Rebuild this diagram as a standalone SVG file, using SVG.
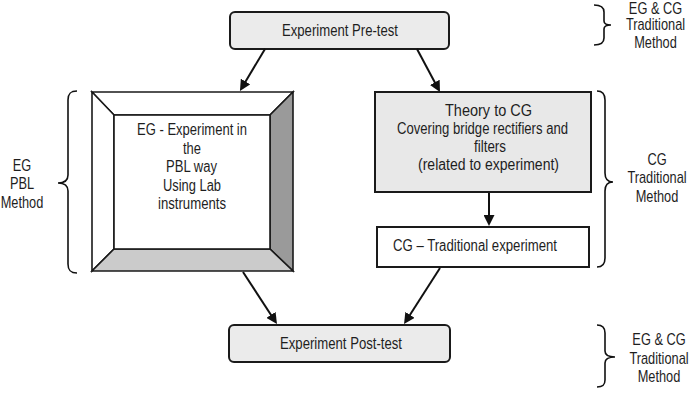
<svg xmlns="http://www.w3.org/2000/svg" width="694" height="402" viewBox="0 0 694 402">
<defs>
<style>
.t{font-family:"Liberation Sans",Arial,sans-serif;font-size:16px;fill:#1e1e1e}
.m{text-anchor:middle}
.box{stroke:#1a1a1a;stroke-width:2}
.gray{fill:#ebebeb}
.bev{stroke:#1a1a1a;stroke-width:1.6;stroke-linejoin:miter}
.brace{fill:none;stroke:#111;stroke-width:1.6}
.con{stroke:#111;stroke-width:2;fill:none}
</style>
<marker id="ah" viewBox="0 0 11 11" refX="7" refY="5.5" markerWidth="11" markerHeight="11" markerUnits="userSpaceOnUse" orient="auto">
<path d="M0,0 L11,5.5 L0,11 z" fill="#111"/>
</marker>
</defs>
<rect width="694" height="402" fill="#fff"/>

<g id="pretest">
<rect class="box gray" x="230" y="12" width="219" height="37" rx="5"/>
<text class="t" x="282" y="36" textLength="116" lengthAdjust="spacingAndGlyphs">Experiment Pre-test</text>
</g>

<g id="label-top">
<path class="brace" d="M594,5 C601,5 604,7 604,12 L604,21 C604,24 607,25 611,25 C607,25 604,26 604,29 L604,38 C604,43 601,45 594,45"/>
<g transform="translate(655.5 0) scale(0.8 1)">
<text class="t m" x="0" y="13.5">EG &amp; CG</text>
<text class="t m" x="0" y="30.5">Traditional</text>
<text class="t m" x="0" y="48.5">Method</text>
</g>
</g>

<g id="label-left">
<path class="brace" d="M77,91 C70,91 68,94 68,100 L68,175 C68,181 64,183 58,183 C64,183 68,185 68,191 L68,264 C68,270 70,273 77,273"/>
<g transform="translate(22 0) scale(0.8 1)">
<text class="t m" x="0" y="171">EG</text>
<text class="t m" x="0" y="189.5">PBL</text>
<text class="t m" x="0" y="208">Method</text>
</g>
</g>

<g id="eg-pbl">
<polygon class="bev" points="92,92 293,92 270,115 114,115" fill="#fff"/>
<polygon class="bev" points="92,92 114,115 114,249 92,271" fill="#fff"/>
<polygon class="bev" points="293,92 293,271 270,249 270,115" fill="#9a9a9a"/>
<polygon class="bev" points="92,271 293,271 270,249 114,249" fill="#cbcbcb"/>
<rect class="bev" x="114" y="115" width="156" height="134" fill="#fff"/>
<text class="t" x="137" y="135" textLength="110" lengthAdjust="spacingAndGlyphs">EG - Experiment in</text>
<text class="t" x="183" y="153.5" textLength="18" lengthAdjust="spacingAndGlyphs">the</text>
<text class="t" x="166" y="172" textLength="51" lengthAdjust="spacingAndGlyphs">PBL way</text>
<text class="t" x="163" y="190.5" textLength="58" lengthAdjust="spacingAndGlyphs">Using Lab</text>
<text class="t" x="158" y="209" textLength="68" lengthAdjust="spacingAndGlyphs">instruments</text>
</g>

<g id="theory">
<rect class="box" x="375" y="92" width="216" height="100" fill="#e8e8e8"/>
<text class="t" x="445" y="115.5" textLength="87" lengthAdjust="spacingAndGlyphs">Theory to CG</text>
<text class="t" x="397" y="133.8" textLength="171" lengthAdjust="spacingAndGlyphs">Covering bridge rectifiers and</text>
<text class="t" x="474" y="152" textLength="32" lengthAdjust="spacingAndGlyphs">filters</text>
<text class="t" x="418" y="169.5" textLength="141" lengthAdjust="spacingAndGlyphs">(related to experiment)</text>
</g>

<g id="cg-exp">
<rect class="box" x="377" y="227" width="212" height="40" fill="#fff"/>
<text class="t" x="393" y="251" textLength="164" lengthAdjust="spacingAndGlyphs">CG – Traditional experiment</text>
</g>

<g id="label-cg">
<path class="brace" d="M597,91 C603,91 605,94 605,100 L605,173 C605,179 608,182 613,182 C608,182 605,185 605,191 L605,258 C605,264 603,267 597,267"/>
<g transform="translate(657 0) scale(0.8 1)">
<text class="t m" x="0" y="165">CG</text>
<text class="t m" x="0" y="183.3">Traditional</text>
<text class="t m" x="0" y="201.7">Method</text>
</g>
</g>

<g id="posttest">
<rect class="box gray" x="229" y="325" width="221" height="37" rx="5"/>
<text class="t" x="280" y="348.5" textLength="122" lengthAdjust="spacingAndGlyphs">Experiment Post-test</text>
</g>

<g id="label-bottom">
<path class="brace" d="M597,325 C603,325 605,328 605,333 L605,351 C605,355 609,357 615,357 C609,357 605,359 605,363 L605,380 C605,385 603,387 597,387"/>
<g transform="translate(659 0) scale(0.8 1)">
<text class="t m" x="0" y="345">EG &amp; CG</text>
<text class="t m" x="0" y="364">Traditional</text>
<text class="t m" x="0" y="382">Method</text>
</g>
</g>

<g id="connectors">
<line class="con" x1="265" y1="49" x2="242" y2="87.5" marker-end="url(#ah)"/>
<line class="con" x1="417" y1="49" x2="438.1" y2="88.5" marker-end="url(#ah)"/>
<line class="con" x1="489" y1="193" x2="489" y2="222" marker-end="url(#ah)"/>
<line class="con" x1="243" y1="272" x2="274.8" y2="320.7" marker-end="url(#ah)"/>
<line class="con" x1="440" y1="268" x2="406.2" y2="320.7" marker-end="url(#ah)"/>
</g>
</svg>
